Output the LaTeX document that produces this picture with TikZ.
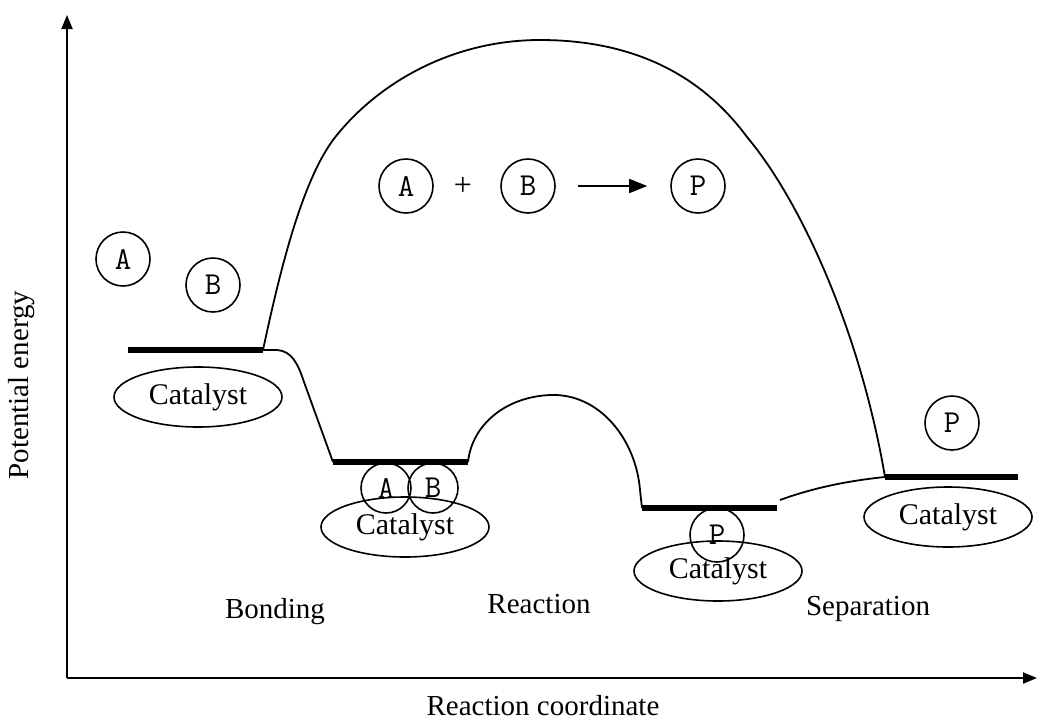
\documentclass[tikz,border=0pt]{standalone}
\usepackage{fontspec}
\setmainfont{Liberation Serif}
\usetikzlibrary{arrows.meta,shapes.geometric}

\begin{document}
\begin{tikzpicture}[x=1pt,y=-1pt,line join=round,
  curve/.style={line width=1.8pt},
  level/.style={line width=6pt,line cap=butt},
  axis/.style={line width=2pt,-{Triangle[length=14pt,width=11pt]}},
  particle/.style={circle,draw,line width=1.6pt,minimum size=54pt,inner sep=0pt,
    font=\ttfamily\fontsize{32}{32}\selectfont},
  support/.style={ellipse,draw,line width=1.6pt,minimum width=168pt,minimum height=60pt,
    inner sep=0pt,font=\fontsize{30}{30}\selectfont},
  label/.style={font=\fontsize{29}{29}\selectfont,anchor=base}]

\useasboundingbox (0,0) rectangle (1038,721);

% axes
\coordinate (origin) at (67,678);
\coordinate (ytip) at (67,15);
\coordinate (xtip) at (1037,678);
\draw[axis] (origin) -- (ytip);
\draw[axis] (origin) -- (xtip);
\node[rotate=90,font=\fontsize{29}{29}\selectfont] (ylab) at (22,385) {Potential energy};
\node[label] (xlab) at (543,715) {Reaction coordinate};

% energy levels
\coordinate (l1s) at (128,350); \coordinate (l1e) at (263,350);
\coordinate (l2s) at (333,462); \coordinate (l2e) at (468,462);
\coordinate (l3s) at (642,508); \coordinate (l3e) at (777,508);
\coordinate (l4s) at (885,477); \coordinate (l4e) at (1018,477);
\coordinate (sepstart) at (780,500);
\foreach \s/\e in {l1s/l1e,l2s/l2e,l3s/l3e,l4s/l4e}
  \draw[level] (\s) -- (\e);

% uncatalysed barrier
\draw[curve] (l1e) .. controls (278,280) and (300,185) .. (333,140)
  .. controls (375,85) and (450,40) .. (540,40)
  .. controls (640,40) and (705,80) .. (747,137)
  .. controls (800,200) and (860,330) .. (l4s);

% catalysed path
\draw[curve] (l1e) -- (277,350) .. controls (292,351) and (298,364) .. (304,382) -- (l2s);
\draw[curve] (l2e) .. controls (472,425) and (505,397) .. (550,395)
  .. controls (600,393) and (636,440) .. (640,490) -- (l3s);
\draw[curve] (sepstart) .. controls (810,489) and (845,481) .. (l4s);

% catalyst supports
\node[support] (cat1) at (198,397) {Catalyst};
\node[support] (cat2) at (405,527) {Catalyst};
\node[support] (cat3) at (718,571) {Catalyst};
\node[support] (cat4) at (948,517) {Catalyst};

% reactants and product
\node[particle] (a0) at (123,259) {A};
\node[particle] (b0) at (213,285) {B};
\node[particle,minimum size=50pt] (a1) at (386,488) {A};
\node[particle,minimum size=50pt] (b1) at (433,488) {B};
\node[particle] (p1) at (717,535) {P};
\node[particle] (p2) at (952,423) {P};

% overall reaction
\node[particle] (ra) at (406,186) {A};
\node[font=\fontsize{32}{32}\selectfont] (plus) at (463,186) {+};
\node[particle] (rb) at (528,186) {B};
\node[particle] (rp) at (698,186) {P};
\draw[curve,-{Triangle[length=18pt,width=14pt]},shorten <=22pt,shorten >=23pt] (rb) -- (rp);

% stage labels
\node[label] (bond) at (275,618) {Bonding};
\node[label] (react) at (539,613) {Reaction};
\node[label] (sep) at (868,615) {Separation};
\end{tikzpicture}
\end{document}
